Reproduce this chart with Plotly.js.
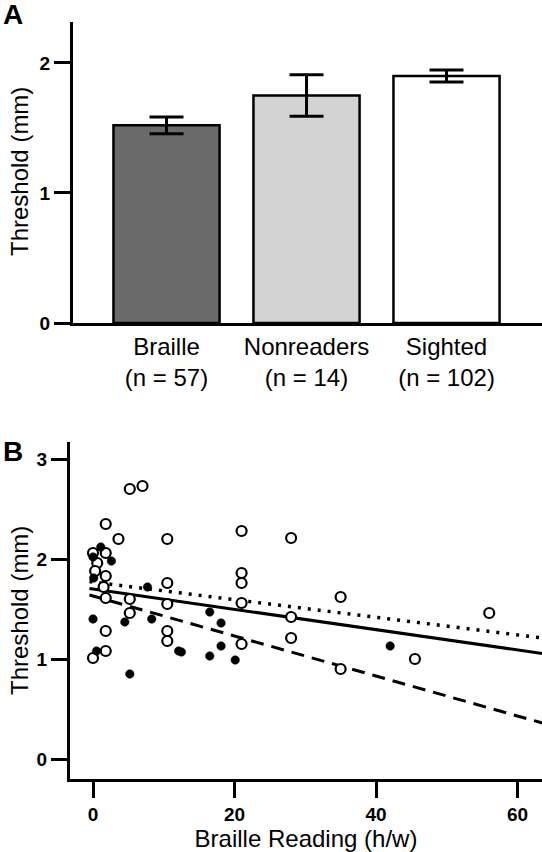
<!DOCTYPE html>
<html>
<head>
<meta charset="utf-8">
<script src="https://cdn.plot.ly/plotly-3.0.1.min.js"></script>
<style>
  html, body { margin: 0; padding: 0; background: #ffffff; }
  #chart { width: 542px; height: 852px; }
</style>
</head>
<body>
<div id="chart"></div>
<script>
// ---- Panel A data ----
const groupLabels = ['Braille<br>(n = 57)', 'Nonreaders<br>(n = 14)', 'Sighted<br>(n = 102)'];
const groupMeans = [1.52, 1.75, 1.90];
const groupErrors = [0.065, 0.16, 0.046];
const groupColors = ['#6a6a6a', '#d3d3d3', '#ffffff'];

// ---- Panel B data ----
const openX = [5.2, 7.0, 1.8, 3.6, 0.0, 1.8, 0.6, 0.3, 1.8, 1.5, 1.8, 5.2, 5.2, 1.8, 1.8, 0.0,
               10.5, 10.5, 10.5, 10.5, 10.5, 21.0, 21.0, 21.0, 21.0, 21.0, 28.0, 28.0, 28.0,
               35.0, 35.0, 45.5, 56.0];
const openY = [2.70, 2.73, 2.35, 2.20, 2.06, 2.06, 1.96, 1.88, 1.83, 1.72, 1.61, 1.60, 1.46, 1.28, 1.08, 1.01,
               2.20, 1.76, 1.55, 1.28, 1.18, 2.28, 1.86, 1.76, 1.56, 1.15, 2.21, 1.42, 1.21,
               1.62, 0.90, 1.00, 1.46];
const filledX = [1.1, 0.0, 2.6, 0.1, 7.7, 16.5, 4.5, 8.3, 0.0, 18.1, 0.5, 12.1, 12.5, 16.5, 18.1, 20.1, 5.2, 42.0];
const filledY = [2.12, 2.02, 1.98, 1.81, 1.72, 1.47, 1.37, 1.40, 1.40, 1.36, 1.08, 1.08, 1.07, 1.03, 1.13, 0.99, 0.85, 1.13];

const fitX = [-0.5, 63.5];
const fitAllY = [1.705, 1.055];
const fitDottedY = [1.774, 1.21];
const fitDashedY = [1.64, 0.36];

const FONT = 'Liberation Sans, Arial, Helvetica, sans-serif';

const traces = [
  {
    type: 'bar', x: groupLabels, y: groupMeans, width: 0.758,
    marker: { color: groupColors, line: { color: '#000', width: 2.5 } },
    error_y: { type: 'data', array: groupErrors, visible: true, color: '#000', thickness: 3, width: 17 },
    xaxis: 'x', yaxis: 'y', showlegend: false, hoverinfo: 'skip'
  },
  {
    type: 'scatter', mode: 'lines', x: fitX, y: fitDottedY,
    line: { color: '#000', width: 3.5, dash: '3px,7px' },
    xaxis: 'x2', yaxis: 'y2', showlegend: false
  },
  {
    type: 'scatter', mode: 'lines', x: fitX, y: fitDashedY,
    line: { color: '#000', width: 3, dash: '13px,8px' },
    xaxis: 'x2', yaxis: 'y2', showlegend: false
  },
  {
    type: 'scatter', mode: 'lines', x: fitX, y: fitAllY,
    line: { color: '#000', width: 3 },
    xaxis: 'x2', yaxis: 'y2', showlegend: false
  },
  {
    type: 'scatter', mode: 'markers', x: openX, y: openY,
    marker: { symbol: 'circle', size: 10, color: '#fff', line: { color: '#000', width: 2.2 } },
    xaxis: 'x2', yaxis: 'y2', showlegend: false
  },
  {
    type: 'scatter', mode: 'markers', x: filledX, y: filledY,
    marker: { symbol: 'circle', size: 8.5, color: '#000', line: { color: '#000', width: 0.5 } },
    xaxis: 'x2', yaxis: 'y2', showlegend: false
  }
];

const H = 852, W = 542;
const tickFont = { family: FONT, size: 19, color: '#000', weight: 'bold' };

const layout = {
  width: W, height: H,
  margin: { l: 0, r: 0, t: 0, b: 0 },
  paper_bgcolor: '#fff', plot_bgcolor: '#fff',
  font: { family: FONT, color: '#000' },
  showlegend: false,
  xaxis: {
    domain: [73 / W, 1], anchor: 'y', type: 'category',
    range: [-0.668, 2.682],
    showline: true, linecolor: '#000', linewidth: 3,
    ticks: '', showgrid: false, zeroline: false, automargin: false,
    tickfont: { family: FONT, size: 24, color: '#000' }
  },
  yaxis: {
    domain: [1 - 323 / H, 1 - 22 / H], anchor: 'x',
    range: [0, 2.315], tickvals: [0, 1, 2], ticktext: ['0', '1', '2'],
    showline: true, linecolor: '#000', linewidth: 3,
    ticks: 'outside', ticklen: 16, tickwidth: 3, tickcolor: '#000',
    showgrid: false, zeroline: false, automargin: false,
    tickfont: tickFont
  },
  xaxis2: {
    domain: [70 / W, 1], anchor: 'y2',
    range: [-3.25, 63.46], tickvals: [0, 20, 40, 60],
    showline: true, linecolor: '#000', linewidth: 3,
    ticks: 'outside', ticklen: 16, tickwidth: 3, tickcolor: '#000',
    showgrid: false, zeroline: false, automargin: false,
    tickfont: tickFont,
    title: { text: 'Braille Reading (h/w)', font: { family: FONT, size: 24, color: '#000' }, standoff: 4 }
  },
  yaxis2: {
    domain: [1 - 779 / H, 1 - 442 / H], anchor: 'x2',
    range: [-0.2, 3.17], tickvals: [0, 1, 2, 3],
    showline: true, linecolor: '#000', linewidth: 3,
    ticks: 'outside', ticklen: 16, tickwidth: 3, tickcolor: '#000',
    showgrid: false, zeroline: false, automargin: false,
    tickfont: tickFont
  },
  annotations: [
    { text: 'A', x: 13 / W, y: 1 - 15 / H, xref: 'paper', yref: 'paper', xanchor: 'center', yanchor: 'middle',
      showarrow: false, font: { family: FONT, size: 28, color: '#000', weight: 'bold' } },
    { text: 'B', x: 13 / W, y: 1 - 451 / H, xref: 'paper', yref: 'paper', xanchor: 'center', yanchor: 'middle',
      showarrow: false, font: { family: FONT, size: 28, color: '#000', weight: 'bold' } },
    { text: 'Threshold (mm)', x: 19 / W, y: 1 - 172 / H, xref: 'paper', yref: 'paper', xanchor: 'center', yanchor: 'middle',
      textangle: -90, showarrow: false, font: { family: FONT, size: 24, color: '#000' } },
    { text: 'Threshold (mm)', x: 19 / W, y: 1 - 611 / H, xref: 'paper', yref: 'paper', xanchor: 'center', yanchor: 'middle',
      textangle: -90, showarrow: false, font: { family: FONT, size: 24, color: '#000' } }
  ]
};

Plotly.newPlot('chart', traces, layout, { staticPlot: true, displayModeBar: false });
</script>
</body>
</html>
